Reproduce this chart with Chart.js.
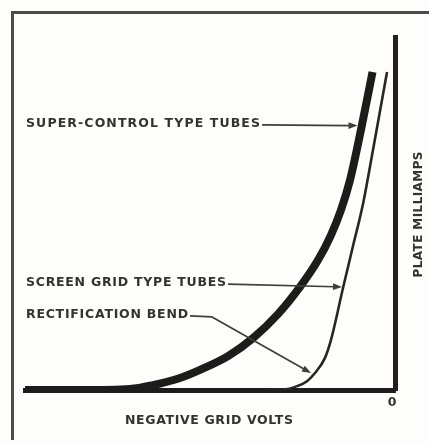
<!DOCTYPE html>
<html>
<head>
<meta charset="utf-8">
<script src="https://cdn.jsdelivr.net/npm/chart.js@4.4.1/dist/chart.umd.min.js"></script>
<style>
  html, body { margin: 0; padding: 0; background: #fdfdfb; }
  #wrap { position: relative; width: 429px; height: 444px; overflow: hidden; }
  #frame { position: absolute; left: 11px; top: 11px; width: 440px; height: 426px;
           border-top: 3px solid #4b4b49; border-left: 3px solid #4b4b49; }
  #curves { position: absolute; left: 0; top: 0; }
</style>
</head>
<body>
<div id="wrap"><div id="frame"></div><canvas id="curves" width="429" height="444"></canvas></div>
<script>
// grid bias (volts, negative) against plate current (relative mA)
const superControlVolts = [-40, -34, -28.65, -26.16, -23.24, -21.08, -18.05, -15.35, -12.65, -10.27, -8.32, -6.92, -5.84, -4.86, -3.68, -2.43];
const superControlMa    = [0, 0, 0.3, 1.4, 3.4, 5.7, 9.6, 14.7, 21.5, 29.2, 36.8, 43.9, 51.0, 59.5, 73.7, 90.1];

const screenGridVolts = [-14.05, -12.11, -10.59, -9.51, -8.65, -7.57, -6.92, -5.62, -4.54, -3.46, -2.38, -0.86];
const screenGridMa    = [0, 0.1, 1.1, 2.5, 4.8, 9.1, 14.2, 28.9, 40.8, 52.7, 68.0, 90.1];

const xTickValues = [0];
const xTickLabels = ['0'];

const xTitle = 'NEGATIVE GRID VOLTS';
const yTitle = 'PLATE MILLIAMPS';

// callout labels and their leader paths, in volts / mA
const calloutLabels = ['SUPER-CONTROL TYPE TUBES', 'SCREEN GRID TYPE TUBES', 'RECTIFICATION BEND'];
const calloutPaths = [
  [[-14.38, 75.1], [-4.05, 74.9]],
  [[-18.05, 30.0], [-5.73, 29.2]],
  [[-22.16, 21.0], [-19.78, 20.7], [-9.08, 4.8]]
];

const FONT = '"DejaVu Sans", sans-serif';
const INK = '#33342d';
const LEADER = '#3d4038';

function toPoints(xs, ys) {
  return xs.map((x, i) => ({ x: x, y: ys[i] }));
}

// draw text stretched by letter spacing so it spans the given width
function spacedText(ctx, text, x, y, width, size) {
  ctx.font = 'bold ' + size + 'px ' + FONT;
  ctx.letterSpacing = '0px';
  const plain = ctx.measureText(text).width;
  ctx.letterSpacing = ((width - plain) / (text.length - 1)) + 'px';
  ctx.textAlign = 'left';
  ctx.textBaseline = 'middle';
  ctx.fillText(text, x, y);
  ctx.letterSpacing = '0px';
}

function arrowHead(ctx, from, to, len, half) {
  const a = Math.atan2(to.y - from.y, to.x - from.x);
  const c = Math.cos(a), s = Math.sin(a);
  ctx.beginPath();
  ctx.moveTo(to.x, to.y);
  ctx.lineTo(to.x - len * c + half * s, to.y - len * s - half * c);
  ctx.lineTo(to.x - len * c - half * s, to.y - len * s + half * c);
  ctx.closePath();
  ctx.fill();
}

const callouts = {
  id: 'callouts',
  afterDatasetsDraw(chart) {
    const { ctx, chartArea, scales: { x, y } } = chart;
    ctx.save();
    ctx.strokeStyle = LEADER;
    ctx.lineWidth = 1.7;
    ctx.lineJoin = 'round';

    calloutPaths.forEach((path, i) => {
      const pts = path.map(p => ({ x: x.getPixelForValue(p[0]), y: y.getPixelForValue(p[1]) }));
      const start = pts[0];
      const left = chartArea.left + 1;
      ctx.fillStyle = INK;
      spacedText(ctx, calloutLabels[i], left, start.y - 1, start.x - 2 - left, 12.5);

      // leader stops at the base of the arrow head
      const last = pts[pts.length - 1], prev = pts[pts.length - 2];
      const d = Math.hypot(last.x - prev.x, last.y - prev.y);
      const back = { x: last.x - (last.x - prev.x) * 7 / d, y: last.y - (last.y - prev.y) * 7 / d };
      ctx.beginPath();
      ctx.moveTo(start.x, start.y);
      pts.slice(1, -1).forEach(p => ctx.lineTo(p.x, p.y));
      ctx.lineTo(back.x, back.y);
      ctx.stroke();
      ctx.fillStyle = LEADER;
      arrowHead(ctx, prev, last, 9, 3.4);
    });

    // axis titles
    ctx.fillStyle = INK;
    const xw = 168;
    spacedText(ctx, xTitle, (chartArea.left + chartArea.right) / 2 - 1 - xw / 2, chartArea.bottom + 31, xw, 12.5);

    const yw = 126;
    ctx.translate(chartArea.right + 24, (chartArea.top + chartArea.bottom) / 2 + 1);
    ctx.rotate(-Math.PI / 2);
    spacedText(ctx, yTitle, -yw / 2, 0, yw, 12);
    ctx.restore();
  }
};

const noClipBelow = { left: 10, top: 10, right: 10, bottom: 0 };

new Chart(document.getElementById('curves'), {
  type: 'line',
  data: {
    datasets: [{
      label: 'Super-control type tubes',
      data: toPoints(superControlVolts, superControlMa),
      borderColor: '#1c1c1b',
      borderWidth: 8,
      pointRadius: 0,
      cubicInterpolationMode: 'monotone',
      clip: noClipBelow
    }, {
      label: 'Screen grid type tubes',
      data: toPoints(screenGridVolts, screenGridMa),
      borderColor: '#262624',
      borderWidth: 2.6,
      pointRadius: 0,
      cubicInterpolationMode: 'monotone',
      clip: noClipBelow
    }]
  },
  options: {
    responsive: false,
    animation: false,
    events: [],
    layout: { padding: { left: 25, right: 34, top: 37, bottom: 0 } },
    plugins: { legend: { display: false }, tooltip: { enabled: false } },
    scales: {
      x: {
        type: 'linear', min: -40, max: 0, position: 'bottom',
        grid: { display: false, drawTicks: false },
        border: { display: true, color: '#1d1b1b', width: 5 },
        afterBuildTicks: s => { s.ticks = xTickValues.map(v => ({ value: v })); },
        afterFit: s => { s.height = 54; s.paddingLeft = 0; s.paddingRight = 0; },
        ticks: {
          padding: 5, labelOffset: -3, color: INK,
          font: { family: FONT, size: 12.5, weight: 'bold' },
          callback: (v, i) => xTickLabels[i]
        }
      },
      y: {
        type: 'linear', min: 0, max: 100, position: 'right',
        grid: { display: false, drawTicks: false },
        border: { display: true, color: '#261e1e', width: 5 },
        ticks: { display: false },
        afterFit: s => { s.width = 0; s.paddingTop = 0; s.paddingBottom = 0; }
      }
    }
  },
  plugins: [callouts]
});
</script>
</body>
</html>
